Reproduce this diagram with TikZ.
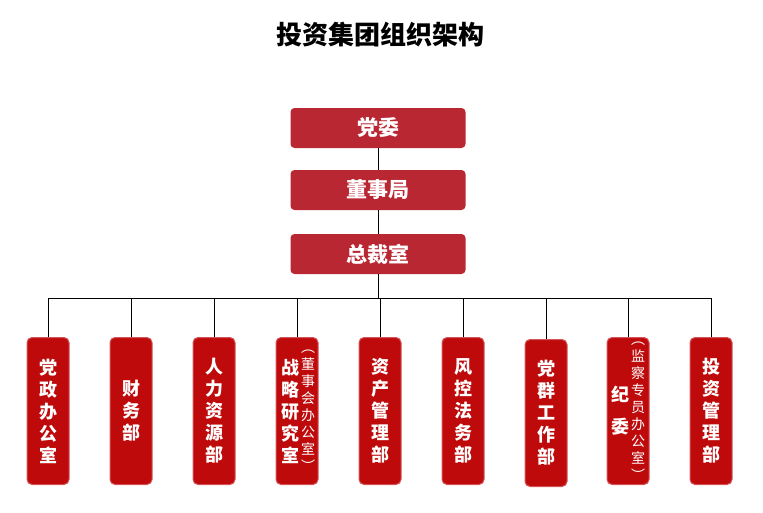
\documentclass[tikz,border=0pt]{standalone}
\usepackage{fontspec}
\setmainfont{Noto Sans CJK SC}
\begin{document}
\begin{tikzpicture}[x=1pt,y=-1pt,
 top/.style={draw=none,fill=topred,rounded corners=4pt,minimum width=175pt,minimum height=40pt,text=white,font=\fontsize{21}{23}\selectfont\bfseries},
 dept/.style={draw=deptedge,line width=1pt,fill=deptred,rounded corners=5pt,minimum width=42pt,minimum height=147pt,text=white},
 vt/.style={text=white,align=center,font=\fontsize{18}{22}\selectfont\bfseries,inner sep=0pt},
 vs/.style={text=white,align=center,font=\fontsize{14}{17}\selectfont,inner sep=0pt},
 ln/.style={draw=black,line width=0.6pt}]
\definecolor{topred}{HTML}{B92732}
\definecolor{deptred}{HTML}{BE0A0A}
\definecolor{deptedge}{HTML}{D4545A}
\useasboundingbox (0,0) rectangle (763,512);
\node[font=\fontsize{26}{28}\selectfont\bfseries] (title) at (380,35) {投资集团组织架构};
\node[top] (a) at (378,128) {党委};
\node[top] (b) at (378,190) {董事局};
\node[top] (c) at (378,254) {总裁室};
\coordinate (bus) at (380,298);
\draw[ln] (a) -- (b); \draw[ln] (b) -- (c); \draw[ln] (c.south) -- (c.south|-bus);
\foreach \i/\x/\y in {1/48/411,2/131/411,3/214/411,4/297/411,5/380/411,6/463/411,7/546/413,8/628/411,9/711/411}{
  \node[dept] (d\i) at (\x,\y) {};
  \coordinate (t\i) at (\x,298);
  \draw[ln] (t\i) -- (d\i.north);
}
\draw[ln] (t1) -- (t9);
\node[vt] at (d1) {党\\政\\办\\公\\室};
\node[vt] at (d2) {财\\务\\部};
\node[vt] at (d3) {人\\力\\资\\源\\部};
\node[vt] at ([xshift=-7pt]d4.center) {战\\略\\研\\究\\室};
\node[vs] at ([xshift=11pt]d4.center) {︵\\董\\事\\会\\办\\公\\室\\︶};
\node[vt] at (d5) {资\\产\\管\\理\\部};
\node[vt] at (d6) {风\\控\\法\\务\\部};
\node[vt] at (d7) {党\\群\\工\\作\\部};
\node[vt,font=\fontsize{18}{32}\selectfont\bfseries] at ([xshift=-8pt]d8.center) {纪\\委};
\node[vs] at ([xshift=10pt]d8.center) {︵\\监\\察\\专\\员\\办\\公\\室\\︶};
\node[vt] at (d9) {投\\资\\管\\理\\部};
\end{tikzpicture}
\end{document}
